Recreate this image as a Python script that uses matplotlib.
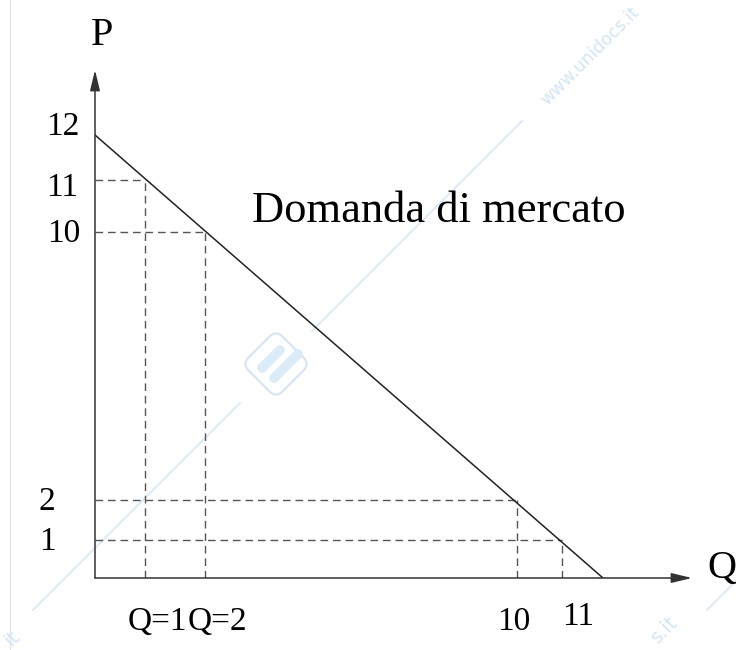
import numpy as np
import matplotlib.pyplot as plt
from matplotlib.patches import FancyBboxPatch
from matplotlib import transforms

plt.rcParams['font.family'] = ['Liberation Serif', 'DejaVu Serif']

# curva di domanda di mercato P = 12 - Q
q_line = [0, 12]
p_line = [12, 0]

# punti evidenziati sulla curva
q_pts = [1, 2, 10, 11]
p_pts = [11, 10, 2, 1]

p_ticks = [12, 11, 10, 2, 1]
p_labels = ['12', '11', '10', '2', '1']
q_ticks = [1, 2, 10, 11]
q_labels = ['Q=1', 'Q=2', '10', '11']

# scala "schematica" (non proporzionale) degli assi, in pixel dall'origine
q_knots = [0, 1, 2, 10, 11, 12, 14]
q_pos = [0, 50, 110, 422, 467, 508, 597]
p_knots = [0, 1, 2, 10, 11, 12, 14]
p_pos = [0, 38, 78, 346, 398, 443, 508]

fig = plt.figure(figsize=(7.36, 6.5), dpi=100)
fig.patch.set_facecolor('white')

# filigrana di sfondo
wm = fig.add_axes([0, 0, 1, 1], zorder=0)
wm.set_xlim(0, 736)
wm.set_ylim(650, 0)
wm.axis('off')
wcol = '#d3e5f6'
wm.plot([10, 10], [0, 650], color='#e6e6e6', lw=1)
wm.plot([33, 240], [610, 403], color=wcol, lw=1.1)
wm.plot([312, 522], [331, 121], color=wcol, lw=1.1)
wm.plot([707, 745], [610, 572], color=wcol, lw=1.1)
wm.text(590, 56, 'www.unidocs.it', rotation=45, color=wcol, fontsize=12.5,
        family='DejaVu Sans', ha='center', va='center')
wm.text(664, 630, 's.it', rotation=45, color=wcol, fontsize=14,
        family='DejaVu Sans', ha='center', va='center')
wm.text(12, 638, 'it', rotation=45, color=wcol, fontsize=14,
        family='DejaVu Sans', ha='center', va='center')
rot = transforms.Affine2D().rotate_deg_around(276, 364, 45) + wm.transData
box = FancyBboxPatch((252, 340), 48, 48, boxstyle='round,pad=0,rounding_size=9',
                     fc='none', ec=wcol, lw=1.5, transform=rot)
wm.add_patch(box)
wm.plot([262, 280], [368, 350], color='#dcebf8', lw=7, solid_capstyle='round')
wm.plot([274, 298], [378, 354], color='#dcebf8', lw=7, solid_capstyle='round')

ax = fig.add_axes([95 / 736, 72 / 650, 597 / 736, 508 / 650], zorder=1)
ax.patch.set_alpha(0)
ax.set_xscale('function', functions=(lambda v: np.interp(v, q_knots, q_pos),
                                     lambda v: np.interp(v, q_pos, q_knots)))
ax.set_yscale('function', functions=(lambda v: np.interp(v, p_knots, p_pos),
                                     lambda v: np.interp(v, p_pos, p_knots)))
ax.set_xlim(0, 14)
ax.set_ylim(0, 14)
for s in ax.spines.values():
    s.set_visible(False)
ax.set_xticks([])
ax.set_yticks([])

# assi con frecce
arrow = dict(arrowstyle='-|>,head_length=1.25,head_width=0.3', lw=1.1,
             color='#333333', shrinkA=0, shrinkB=0)
ax.annotate('', xy=(0, 1), xytext=(0, 0), xycoords='axes fraction',
            arrowprops=arrow)
ax.annotate('', xy=(1, 0), xytext=(0, 0), xycoords='axes fraction',
            arrowprops=arrow)

# linee tratteggiate di riferimento
dash = dict(color='#555555', lw=1.0, ls=(0, (5.5, 3.5)))
for q, p in zip(q_pts, p_pts):
    ax.plot([0, q], [p, p], **dash)
    ax.plot([q, q], [0, p], **dash)

ax.plot(q_line, p_line, color='#222222', lw=1.1)

# etichette asse P
p_off = [(-32, 0), (-33, -16), (-31, -10), (-48, -10), (-48, -10)]
for p, lab, (dx, dy) in zip(p_ticks, p_labels, p_off):
    ax.annotate(lab, xy=(0, p), xytext=(dx, dy), textcoords='offset pixels',
                ha='center', va='baseline', fontsize=24, annotation_clip=False)

# etichette asse Q
q_off = [(12, -52), (12, -52), (-3, -52), (16, -47)]
for q, lab, (dx, dy) in zip(q_ticks, q_labels, q_off):
    ax.annotate(lab, xy=(q, 0), xytext=(dx, dy), textcoords='offset pixels',
                ha='center', va='baseline', fontsize=24, annotation_clip=False)

ax.text(0.011, 1.0 + 25 / 508, 'P', transform=ax.transAxes, ha='center',
        va='baseline', fontsize=29)
ax.text(1.0 + 15 / 597, 0, 'Q', transform=ax.transAxes, ha='left',
        va='baseline', fontsize=29)
ax.text((252 - 95) / 597, (578 - 222) / 508, 'Domanda di mercato',
        transform=ax.transAxes, ha='left', va='baseline', fontsize=32)

fig.savefig('out.png', dpi=100)
